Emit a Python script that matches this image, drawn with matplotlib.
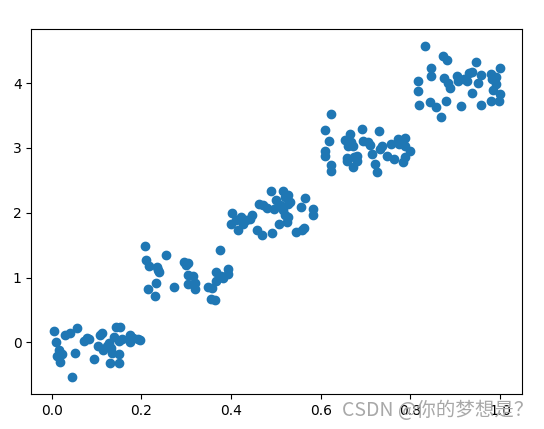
import numpy as np
import matplotlib
matplotlib.use("Agg")
import matplotlib.pyplot as plt

# cluster 1 (around 0, 0)
x1 = [0.004, 0.01, 0.015, 0.012, 0.019, 0.03, 0.041, 0.056, 0.051, 0.045,
      0.071, 0.078, 0.083, 0.093, 0.108, 0.113, 0.104, 0.115, 0.127, 0.132,
      0.134, 0.130, 0.149, 0.144, 0.153, 0.149, 0.149, 0.156, 0.175, 0.182,
      0.193, 0.197, 0.175, 0.138, 0.123, 0.022]
y1 = [0.17, 0.0, -0.11, -0.21, -0.30, 0.11, 0.14, 0.22, -0.16, -0.54,
      0.02, 0.07, 0.05, -0.25, 0.12, 0.14, -0.06, -0.11, -0.01, -0.09,
      -0.16, -0.31, -0.31, 0.24, 0.24, -0.18, 0.02, 0.05, 0.12, 0.07,
      0.05, 0.03, 0.0, 0.08, -0.05, -0.18]

# cluster 2 (around 0.3, 1)
x2 = [0.208, 0.210, 0.216, 0.235, 0.240, 0.233, 0.215, 0.230, 0.255, 0.272,
      0.294, 0.303, 0.303, 0.315, 0.303, 0.320, 0.320, 0.348, 0.355, 0.363,
      0.357, 0.366, 0.366, 0.376, 0.392, 0.392, 0.378, 0.238, 0.300, 0.383]
y2 = [1.49, 1.27, 1.18, 1.17, 1.09, 0.91, 0.82, 0.72, 1.35, 0.85,
      1.24, 1.22, 1.04, 1.02, 0.90, 0.91, 0.82, 0.86, 0.67, 0.66,
      0.84, 0.94, 1.09, 1.43, 1.13, 1.06, 1.02, 1.12, 1.20, 0.99]

# cluster 3 (around 0.5, 2)
x3 = [0.402, 0.400, 0.411, 0.415, 0.423, 0.427, 0.434, 0.442, 0.446, 0.457,
      0.463, 0.472, 0.470, 0.481, 0.489, 0.492, 0.496, 0.500, 0.510, 0.508,
      0.516, 0.520, 0.527, 0.526, 0.516, 0.520, 0.527, 0.531, 0.524, 0.545,
      0.555, 0.558, 0.566, 0.582, 0.582, 0.562]
y3 = [1.99, 1.83, 1.89, 1.74, 1.94, 1.83, 1.89, 1.91, 1.96, 1.74,
      2.14, 2.12, 1.66, 2.07, 2.33, 1.69, 2.06, 2.19, 2.12, 1.83,
      2.34, 2.24, 2.27, 2.14, 2.04, 1.96, 1.94, 2.17, 1.86, 1.71,
      2.09, 1.73, 2.23, 2.06, 1.96, 1.76]

# cluster 4 (around 0.7, 3)
x4 = [0.610, 0.622, 0.619, 0.610, 0.610, 0.623, 0.623, 0.655, 0.665, 0.667,
      0.671, 0.659, 0.659, 0.675, 0.671, 0.682, 0.682, 0.691, 0.694, 0.706,
      0.710, 0.715, 0.721, 0.725, 0.729, 0.733, 0.737, 0.748, 0.756, 0.764,
      0.772, 0.775, 0.783, 0.787, 0.789, 0.787, 0.799, 0.660]
y4 = [3.27, 3.53, 3.11, 2.96, 2.88, 2.73, 2.65, 3.12, 3.21, 3.09,
      3.03, 2.85, 2.80, 2.86, 2.71, 2.88, 2.80, 3.30, 3.11, 3.09,
      3.05, 2.90, 2.76, 2.63, 3.26, 2.98, 3.03, 2.87, 3.06, 2.83,
      3.14, 3.06, 2.78, 2.86, 3.16, 3.03, 2.95, 3.03]

# cluster 5 (around 0.9, 4)
x5 = [0.833, 0.818, 0.818, 0.820, 0.845, 0.845, 0.844, 0.857, 0.868, 0.872,
      0.882, 0.876, 0.884, 0.880, 0.889, 0.903, 0.907, 0.913, 0.919, 0.926,
      0.930, 0.938, 0.937, 0.947, 0.950, 0.957, 0.957, 0.979, 0.983, 0.985,
      0.979, 0.992, 1.000, 1.000, 0.998, 0.990]
y5 = [4.58, 4.03, 3.88, 3.67, 4.24, 4.11, 3.71, 3.63, 3.48, 4.42,
      4.36, 4.08, 4.00, 3.72, 3.93, 4.11, 4.03, 3.65, 4.06, 4.03,
      4.16, 4.18, 3.85, 4.33, 4.01, 4.13, 3.66, 4.14, 4.06, 3.90,
      3.72, 3.98, 4.24, 3.83, 3.73, 4.10]

x = np.array(x1 + x2 + x3 + x4 + x5)
y = np.array(y1 + y2 + y3 + y4 + y5)

fig = plt.figure(figsize=(5.44, 4.29), dpi=100)
ax = fig.add_axes([31.3 / 544, 1 - 394 / 429, 491 / 544, 365 / 429])
ax.scatter(x, y)

# watermark
fig.text(342 / 544, 1 - 410 / 429, "CSDN @你的梦想是？", color="#a8a8a8",
         fontsize=14, va="center", ha="left",
         family=["Noto Sans CJK SC", "DejaVu Sans"])

fig.savefig("out.png", dpi=100)
